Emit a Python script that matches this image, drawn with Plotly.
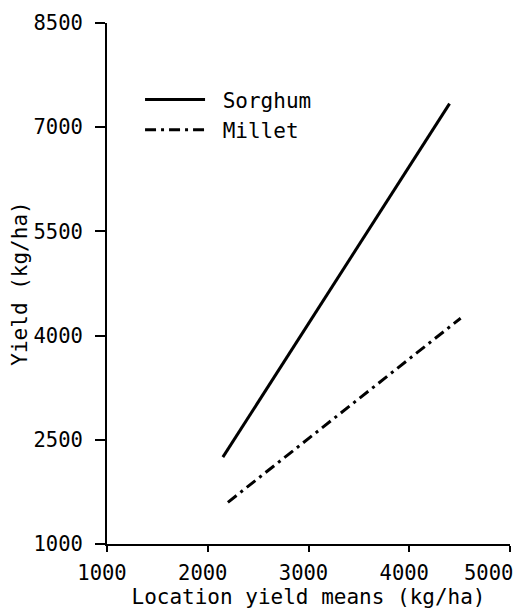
import plotly.graph_objects as go

# Data
sorghum_x = [2150, 4400]
sorghum_y = [2250, 7340]
millet_x = [2200, 4510]
millet_y = [1600, 4250]

x_ticks = [1000, 2000, 3000, 4000, 5000]
x_tick_text = ["1000", "2000", "3000", "4000", ""]   # last label drawn as annotation below
x_last_label = "5000"
y_ticks = [1000, 2500, 4000, 5500, 7000, 8500]

FONT = "DejaVu Sans Mono"
FS_TICK = 20.5
FS_TEXT = 21

fig = go.Figure()
fig.add_trace(go.Scatter(x=sorghum_x, y=sorghum_y, mode="lines", name=" Sorghum",
                         line=dict(color="black", width=3)))
fig.add_trace(go.Scatter(x=millet_x, y=millet_y, mode="lines", name=" Millet",
                         line=dict(color="black", width=3, dash="11px,5px,3px,5px")))

fig.add_annotation(x=x_ticks[-1], xref="x", y=0, yref="paper",
                   text=x_last_label, showarrow=False,
                   xanchor="right", yanchor="top", xshift=4, yshift=-16,
                   font=dict(family=FONT, size=FS_TICK, color="black"),
                   borderpad=0)

fig.update_layout(
    width=518, height=609,
    margin=dict(l=107, r=8, t=23, b=65),
    paper_bgcolor="white", plot_bgcolor="white",
    font=dict(family=FONT, size=FS_TEXT, color="black"),
    showlegend=True,
    legend=dict(x=0.082, y=0.892, xanchor="left", yanchor="top",
                bgcolor="rgba(0,0,0,0)", itemwidth=60,
                font=dict(family=FONT, size=FS_TEXT), tracegroupgap=0),
    xaxis=dict(range=[1000, 5000], tickvals=x_ticks, ticktext=x_tick_text,
               showgrid=False, zeroline=False, showline=True, linecolor="black", linewidth=2,
               ticks="outside", ticklen=6, tickwidth=2, tickcolor="black",
               ticklabelstandoff=3, ticklabelshift=-5,
               automargin=False,
               tickfont=dict(family=FONT, size=FS_TICK),
               title=dict(text="Location yield means (kg/ha)", standoff=3,
                          font=dict(family=FONT, size=FS_TEXT))),
    yaxis=dict(range=[1000, 8500], tickvals=y_ticks, ticktext=[str(v) for v in y_ticks],
               showgrid=False, zeroline=False, showline=True, linecolor="black", linewidth=2,
               ticks="outside", ticklen=10, tickwidth=2, tickcolor="black",
               ticklabelstandoff=8, automargin=False,
               tickfont=dict(family=FONT, size=FS_TICK),
               title=dict(text="Yield (kg/ha)", standoff=0,
                          font=dict(family=FONT, size=FS_TEXT))),
)

fig.write_html("out.html")
